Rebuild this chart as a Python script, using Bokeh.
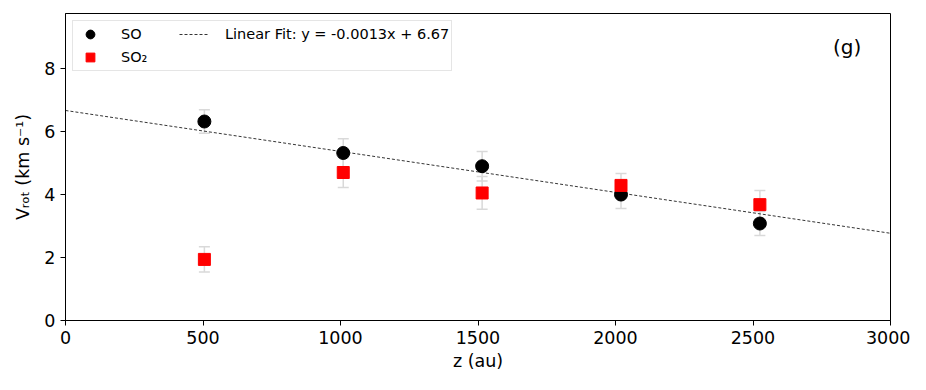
from bokeh.plotting import figure
from bokeh.models import ColumnDataSource, Whisker, TeeHead, Legend, LegendItem, Label, Range1d, FixedTicker
from bokeh.embed import file_html
from bokeh.resources import INLINE

# data
z_so = [505, 1010, 1515, 2020, 2525]
v_so = [6.32, 5.32, 4.9, 4.0, 3.08]
e_so = [0.37, 0.45, 0.47, 0.44, 0.38]

z_so2 = [505, 1010, 1515, 2020, 2525]
v_so2 = [1.94, 4.7, 4.05, 4.29, 3.68]
e_so2 = [0.4, 0.48, 0.52, 0.38, 0.45]

fit_slope = -0.0013
fit_intercept = 6.67
fit_x = [0, 3000]
fit_y = [fit_slope * x + fit_intercept for x in fit_x]

x_ticks = [0, 500, 1000, 1500, 2000, 2500, 3000]
y_ticks = [0, 2, 4, 6, 8]

FONT = "DejaVu Sans"

p = figure(width=910, height=374, output_backend="svg", toolbar_location=None,
           x_range=Range1d(0, 3000), y_range=Range1d(0, 9.75),
           min_border_left=65, min_border_right=20, min_border_top=13, min_border_bottom=54)
p.xgrid.visible = False
p.ygrid.visible = False
p.outline_line_color = "black"
p.outline_line_width = 1

for ax in (p.xaxis, p.yaxis):
    ax.major_label_text_font = FONT
    ax.major_label_text_font_size = "17.5px"
    ax.major_label_text_color = "black"
    ax.axis_label_text_font = FONT
    ax.axis_label_text_font_size = "17.5px"
    ax.axis_label_text_font_style = "normal"
    ax.axis_label_text_color = "black"
    ax.minor_tick_line_color = None
    ax.major_tick_out = 5
    ax.major_tick_in = 0
    ax.axis_line_color = "black"
    ax.major_tick_line_color = "black"

p.xaxis.ticker = FixedTicker(ticks=x_ticks)
p.yaxis.ticker = FixedTicker(ticks=y_ticks)
p.xaxis.axis_label = "z (au)"
p.yaxis.axis_label = "Vᵣₒₜ (km s⁻¹)"
p.xaxis.axis_label_standoff = 4
p.xaxis.major_label_standoff = 5
p.yaxis.axis_label_standoff = 8

src_so = ColumnDataSource(dict(x=z_so, y=v_so,
                               lo=[v - e for v, e in zip(v_so, e_so)],
                               hi=[v + e for v, e in zip(v_so, e_so)]))
src_so2 = ColumnDataSource(dict(x=z_so2, y=v_so2,
                                lo=[v - e for v, e in zip(v_so2, e_so2)],
                                hi=[v + e for v, e in zip(v_so2, e_so2)]))

ecol = "#d9d9d9"
for src in (src_so, src_so2):
    w = Whisker(source=src, base="x", lower="lo", upper="hi",
                line_color=ecol, line_width=1.5,
                upper_head=TeeHead(size=11, line_color=ecol, line_width=1.5),
                lower_head=TeeHead(size=11, line_color=ecol, line_width=1.5))
    p.add_layout(w)

r_so = p.scatter("x", "y", source=src_so, marker="circle", size=13,
                 fill_color="black", line_color="black")
r_so2 = p.scatter("x", "y", source=src_so2, marker="square", size=12,
                  fill_color="red", line_color="red")
r_fit = p.line(fit_x, fit_y, line_color="black", line_width=0.8, line_dash="3 2")

legend = Legend(items=[
    LegendItem(label="SO", renderers=[r_so]),
    LegendItem(label="SO₂", renderers=[r_so2]),
    LegendItem(label="Linear Fit: y = -0.0013x + 6.67", renderers=[r_fit]),
], location="top_left", nrows=2, orientation="vertical")
legend.label_text_font = FONT
legend.label_text_font_size = "14.5px"
legend.label_text_color = "black"
legend.glyph_width = 30
legend.glyph_height = 22
legend.label_height = 20
legend.label_width = 57
legend.label_standoff = 16
legend.spacing = 1
legend.padding = 2
legend.margin = 7
legend.border_line_color = "#cccccc"
legend.border_line_width = 1.5
legend.background_fill_alpha = 0.9
p.add_layout(legend)

lab = Label(x=2842, y=8.7, text="(g)", text_font=FONT, text_font_size="20px",
            text_align="center", text_baseline="middle", text_color="black")
p.add_layout(lab)

open("out.html", "w").write(file_html(p, INLINE))
